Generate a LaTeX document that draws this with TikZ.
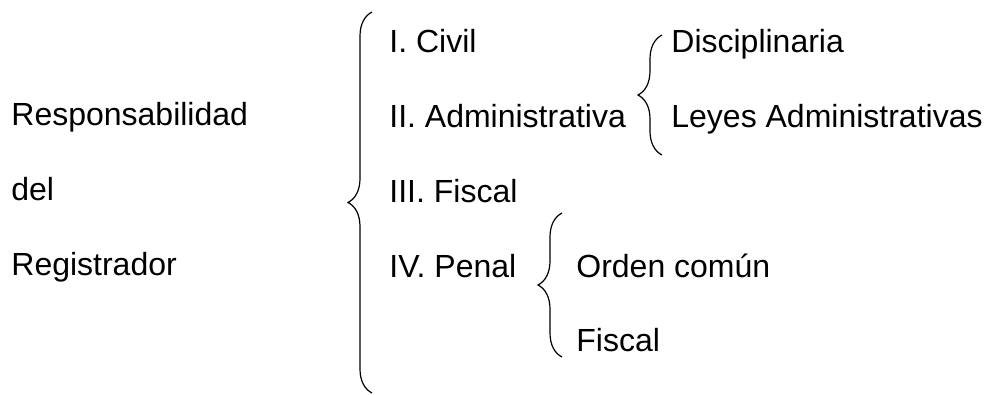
\documentclass[tikz,border=0pt]{standalone}
\usepackage{fontspec}
\setmainfont{Liberation Sans}
\usetikzlibrary{positioning, decorations.pathreplacing}

\begin{document}
\begin{tikzpicture}[x=1pt, y=-1pt, thick]
        % Define styles
        \tikzstyle{entry} = [anchor=base west, inner sep=0pt, font=\fontsize{32}{38}\selectfont]
        \tikzstyle{curly} = [draw, decorate, decoration={brace, amplitude=24pt, aspect=0.5}, line width=1.2pt]

        \useasboundingbox (0,0) rectangle (986,394);

        % Left column
        \node [entry] (resp) at (11,125) {Responsabilidad};
        \node [entry] (del) at (11,200) {del};
        \node [entry] (reg) at (11,275) {Registrador};

        % Kinds of responsibility
        \node [entry] (civil) at (389,52) {I. Civil};
        \node [entry] (admin) at (389,127) {II. Administrativa};
        \node [entry] (fiscal) at (389,202) {III. Fiscal};
        \node [entry] (penal) at (389,277) {IV. Penal};

        % Sub-items
        \node [entry] (disc) at (671,52) {Disciplinaria};
        \node [entry] (leyes) at (671,127) {Leyes Administrativas};
        \node [entry] (comun) at (576,277) {Orden común};
        \node [entry] (pfiscal) at (576,351) {Fiscal};

        % Brace ends
        \coordinate (b1s) at (372,393);
        \coordinate (b1e) at (372,12);
        \coordinate (b2s) at (662,155);
        \coordinate (b2e) at (662,35);
        \coordinate (b3s) at (562,357);
        \coordinate (b3e) at (562,213);

        % Braces
        \draw [curly] (b1s) -- (b1e);
        \draw [curly] (b2s) -- (b2e);
        \draw [curly] (b3s) -- (b3e);

    \end{tikzpicture}
\end{document}
